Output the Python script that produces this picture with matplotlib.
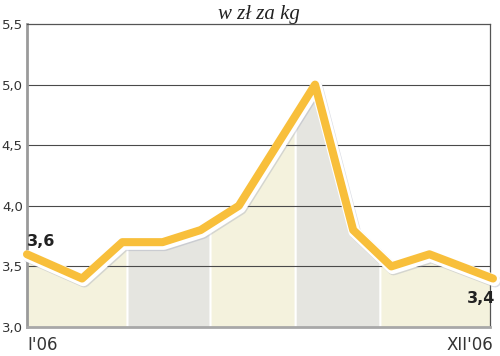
import numpy as np
import matplotlib
matplotlib.use("Agg")
import matplotlib.pyplot as plt
import matplotlib.patheffects as pe

# ---- data ----
month_pos = [0, 1.3, 2.25, 3.2, 4.1, 5.0, 5.9, 6.8, 7.7, 8.6, 9.5, 11.0]
prices = [3.6, 3.4, 3.7, 3.7, 3.8, 4.0, 4.5, 5.0, 3.8, 3.5, 3.6, 3.4]
band_edges = [0, 2.36, 4.32, 6.33, 8.33, 10.93]
band_colors = ["#f4f2dd", "#e5e5e0", "#f4f2dd", "#e5e5e0", "#f4f2dd"]
yticks = [3.0, 3.5, 4.0, 4.5, 5.0, 5.5]
ytick_labels = ["3,0", "3,5", "4,0", "4,5", "5,0", "5,5"]
title = "w zł za kg"
first_label, last_label = "3,6", "3,4"
x_start_label, x_end_label = "I'06", "XII'06"

fig = plt.figure(figsize=(5, 3.56), dpi=100)
ax = fig.add_axes([27/500, 1-327/356, (490-27)/500, (327-24)/356])
ax.set_xlim(band_edges[0], band_edges[-1])
ax.set_ylim(yticks[0], yticks[-1])

# shaded bands under the line
gap = 0.025
for i, c in enumerate(band_colors):
    a = band_edges[i] + (gap if i > 0 else 0)
    b = band_edges[i+1] - (gap if i < len(band_colors)-1 else 0)
    xs = np.linspace(a, b, 200)
    ys = np.interp(xs, month_pos, prices)
    ax.fill_between(xs, yticks[0], ys, color=c, lw=0, zorder=1)

# gridlines
for y in yticks[1:-1]:
    ax.axhline(y, color="#4a4a4a", lw=0.8, zorder=2)

# line
ax.plot(month_pos, prices, color="#f8bf3b", lw=5.8, zorder=5, clip_on=False,
        solid_joinstyle="round", solid_capstyle="round",
        path_effects=[pe.SimpleLineShadow(offset=(1.6, -2.2), shadow_color="#9aa0b5",
                                          alpha=0.35, linewidth=8.5),
                      pe.Stroke(linewidth=8.5, foreground="white", offset=(0.9, -1.3)),
                      pe.Normal()])

# spines
for s in ["top", "right"]:
    ax.spines[s].set_color("#555555")
    ax.spines[s].set_linewidth(0.9)
ax.spines["left"].set_color("#9a9a9a")
ax.spines["left"].set_linewidth(2)
ax.spines["bottom"].set_color("#a8a8a8")
ax.spines["bottom"].set_linewidth(2)

ax.set_xticks([])
ax.set_yticks(yticks)
ax.set_yticklabels(ytick_labels, fontsize=9.5, color="#333333", family="DejaVu Sans")
ax.tick_params(axis="y", length=0, pad=3)

ax.set_title(title, fontsize=15, style="italic", family="Liberation Serif",
             color="#222222", pad=2)

ax.text(0.0, 3.6 + 0.04, first_label, fontsize=11.5, fontweight="bold",
        color="#222222", ha="left", va="bottom", family="DejaVu Sans")
ax.text(11.0 + 0.05, 3.4 - 0.1, last_label, fontsize=11.5, fontweight="bold",
        color="#222222", ha="right", va="top", family="DejaVu Sans", clip_on=False)

fig.text(27/500, 1-345/356, x_start_label, fontsize=12, color="#333333",
         ha="left", va="center", family="DejaVu Sans")
fig.text(493/500, 1-345/356, x_end_label, fontsize=12, color="#333333",
         ha="right", va="center", family="DejaVu Sans")

fig.savefig("out.png", dpi=100, facecolor="white")
